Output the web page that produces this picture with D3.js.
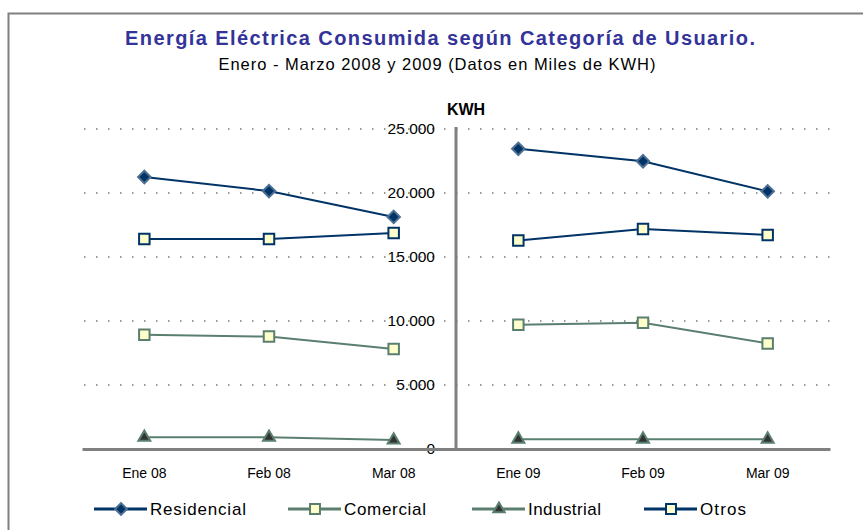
<!DOCTYPE html>
<html>
<head>
<meta charset="utf-8">
<script src="https://cdn.jsdelivr.net/npm/d3@7/dist/d3.min.js"></script>
<style>
  body { margin: 0; background: #fff; }
  text { font-family: "Liberation Sans", Arial, sans-serif; }
</style>
</head>
<body>
<script>
// datos (miles de KWH)
var meses = ["Ene 08", "Feb 08", "Mar 08", "Ene 09", "Feb 09", "Mar 09"];
var residencial = [21250, 20150, 18130, 23450, 22480, 20130];
var comercial   = [8930, 8780, 7810, 9710, 9870, 8250];
var industrial  = [910, 910, 700, 760, 760, 760];
var otros       = [16400, 16400, 16880, 16280, 17190, 16720];
var yTicks = [0, 5000, 10000, 15000, 20000, 25000];

var width = 863, height = 530;

var svg = d3.select("body").append("svg")
    .attr("width", width)
    .attr("height", height);

// marco
svg.append("rect")
    .attr("x", 8.5).attr("y", 13.5)
    .attr("width", 900).attr("height", 600)
    .attr("fill", "none")
    .attr("stroke", "#808080")
    .attr("stroke-width", 2);

var x = d3.scaleBand()
    .domain(meses)
    .range([82, 830]);

var y = d3.scaleLinear()
    .domain([0, 25000])
    .range([449, 129]);

var loc = d3.formatLocale({decimal: ",", thousands: ".", grouping: [3], currency: ["", ""]});
var fmt = loc.format(",d");

// lineas de la cuadricula (punteadas)
svg.append("g")
    .selectAll("line")
    .data(yTicks.slice(1))
    .enter()
    .append("line")
    .attr("x1", 84).attr("x2", 830)
    .attr("y1", function(d) { return y(d); })
    .attr("y2", function(d) { return y(d); })
    .attr("stroke", "#999")
    .attr("stroke-width", 2)
    .attr("stroke-dasharray", "1.5,10.5");

// eje y
var yAxis = d3.axisLeft(y).tickValues(yTicks).tickSize(0).tickPadding(0).tickFormat(fmt);
var gy = svg.append("g")
    .attr("transform", "translate(435,0)")
    .call(yAxis);
gy.select(".domain").remove();
gy.selectAll("text")
    .attr("font-size", 15.5)
    .attr("fill", "#000")
    .style("font-family", "'Liberation Sans', Arial, sans-serif");

svg.append("line")
    .attr("x1", 456).attr("x2", 456)
    .attr("y1", y(25000) - 2).attr("y2", y(0))
    .attr("stroke", "#808080")
    .attr("stroke-width", 3);

// eje x
var xAxis = d3.axisBottom(x).tickSize(0).tickPadding(19);
var gx = svg.append("g")
    .attr("transform", "translate(0," + y(0) + ")")
    .call(xAxis);
gx.select(".domain")
    .attr("stroke", "#808080")
    .attr("stroke-width", 3);
gx.selectAll("text")
    .attr("font-size", 14)
    .attr("fill", "#000")
    .style("font-family", "'Liberation Sans', Arial, sans-serif");

// series
var series = [
    {name: "Residencial", values: residencial, line: "#003366", fill: "#003366", stroke: "#4d6f93", shape: "diamond", legX: 94, tl: 96},
    {name: "Comercial", values: comercial, line: "#5a7f6f", fill: "#ffffcc", stroke: "#5a7f6f", shape: "square", legX: 288, tl: 82},
    {name: "Industrial", values: industrial, line: "#5a7f6f", fill: "#333333", stroke: "#5a7f6f", shape: "triangle", legX: 472, tl: 73},
    {name: "Otros", values: otros, line: "#003366", fill: "#ffffcc", stroke: "#003366", shape: "square", legX: 644, tl: 46}
];

function symbolPath(shape, scale) {
    scale = scale || 1;
    if (shape === "diamond") return d3.symbol().type(d3.symbolSquare).size(78 * scale)();
    if (shape === "square") return d3.symbol().type(d3.symbolSquare).size(110 * scale)();
    return d3.symbol().type(d3.symbolTriangle).size(62 * scale)();
}

var line = d3.line()
    .x(function(d) { return x(d.m) + x.bandwidth() / 2; })
    .y(function(d) { return y(d.v); });

series.forEach(function(s) {
    var pts = s.values.map(function(v, i) { return {m: meses[i], v: v}; });
    var g = svg.append("g");
    [pts.slice(0, 3), pts.slice(3)].forEach(function(seg) {
        g.append("path")
            .attr("d", line(seg))
            .attr("fill", "none")
            .attr("stroke", s.line)
            .attr("stroke-width", 2);
    });
    g.selectAll("path.mk")
        .data(pts)
        .enter()
        .append("path")
        .attr("class", "mk")
        .attr("d", symbolPath(s.shape))
        .attr("transform", function(d) {
            var t = "translate(" + (x(d.m) + x.bandwidth() / 2) + "," + y(d.v) + ")";
            return s.shape === "diamond" ? t + " rotate(45)" : t;
        })
        .attr("fill", s.fill)
        .attr("stroke", s.stroke)
        .attr("stroke-width", 2);
});

// titulos
svg.append("text")
    .attr("x", 440).attr("y", 45)
    .attr("text-anchor", "middle")
    .attr("font-size", 20)
    .attr("font-weight", "bold")
    .attr("fill", "#333399")
    .attr("textLength", 630)
    .attr("lengthAdjust", "spacing")
    .text("Energía Eléctrica Consumida según Categoría de Usuario.");

svg.append("text")
    .attr("x", 437).attr("y", 70)
    .attr("text-anchor", "middle")
    .attr("font-size", 16.5)
    .attr("fill", "#000")
    .attr("textLength", 437)
    .attr("lengthAdjust", "spacing")
    .text("Enero - Marzo 2008 y 2009 (Datos en Miles de KWH)");

svg.append("text")
    .attr("x", 466).attr("y", 115)
    .attr("text-anchor", "middle")
    .attr("font-size", 16)
    .attr("font-weight", "bold")
    .attr("fill", "#000")
    .text("KWH");

// leyenda
var leg = svg.append("g");
series.forEach(function(s) {
    var lg = leg.append("g").attr("transform", "translate(" + s.legX + ",509)");
    lg.append("line")
        .attr("x1", 0).attr("x2", 53)
        .attr("stroke", s.line)
        .attr("stroke-width", 3);
    lg.append("path")
        .attr("d", symbolPath(s.shape, 0.9))
        .attr("transform", s.shape === "diamond" ? "translate(27,0) rotate(45)" : "translate(27,0)")
        .attr("fill", s.fill)
        .attr("stroke", s.stroke)
        .attr("stroke-width", 2);
    lg.append("text")
        .attr("x", 56).attr("y", 6)
        .attr("font-size", 17)
        .attr("fill", "#000")
        .attr("textLength", s.tl)
        .attr("lengthAdjust", "spacing")
        .text(s.name);
});
</script>
</body>
</html>
